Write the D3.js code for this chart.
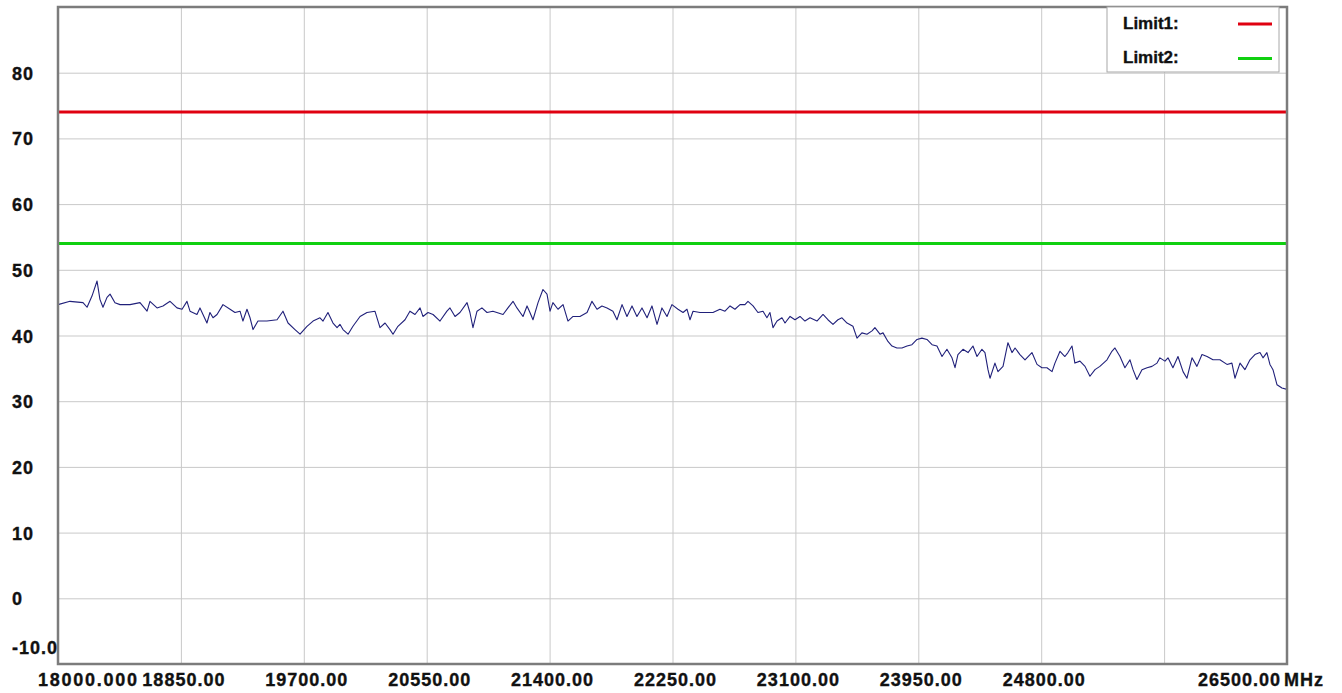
<!DOCTYPE html>
<html>
<head>
<meta charset="utf-8">
<script src="https://cdn.jsdelivr.net/npm/d3@7"></script>
<style>
  html, body { margin: 0; padding: 0; background: #ffffff; }
  svg { display: block; font-family: "Liberation Sans", Arial, sans-serif; }
</style>
</head>
<body>
<svg id="chart" width="1342" height="693"></svg>
<script>
// ---- data ----
const xTickValues = [18000, 18850, 19700, 20550, 21400, 22250, 23100, 23950, 24800, 25650, 26500];
const xTickLabels = ["18000.000", "18850.00", "19700.00", "20550.00", "21400.00", "22250.00", "23100.00", "23950.00", "24800.00", "", "26500.00"];
const yTickValues = [80, 70, 60, 50, 40, 30, 20, 10, 0, -10];
const yTickLabels = ["80", "70", "60", "50", "40", "30", "20", "10", "0", "-10.0"];
const limitNames = ["Limit1:", "Limit2:"];
const limitValues = [74, 54];
const limitColors = ["#e00010", "#10d010"];

const freqMHz = [
  18000,18083,18173,18201,18235,18270,18290,18311,18339,18360,18394,18429,18498,18567,18616,18636,18685,18726,18775,18823,
  18858,18892,18913,18961,18982,19030,19051,19072,19100,19141,19190,19224,19259,19279,19307,19328,19349,19383,19445,19515,
  19556,19591,19639,19674,19722,19764,19812,19833,19867,19902,19930,19950,19971,20006,20040,20089,20137,20192,20227,20262,
  20296,20317,20351,20400,20434,20469,20504,20524,20559,20594,20642,20690,20711,20746,20780,20829,20849,20870,20898,20932,
  20967,21008,21078,21112,21147,21174,21216,21244,21264,21285,21320,21354,21382,21403,21423,21458,21493,21527,21562,21610,
  21659,21693,21728,21762,21797,21838,21866,21901,21935,21970,22004,22039,22074,22108,22143,22177,22212,22246,22288,22323,
  22350,22371,22392,22440,22530,22578,22613,22648,22682,22717,22751,22772,22807,22841,22876,22903,22924,22945,22973,23007,
  23028,23063,23097,23132,23166,23201,23249,23291,23325,23360,23394,23422,23457,23498,23526,23560,23595,23630,23650,23685,
  23706,23740,23768,23802,23837,23872,23906,23941,23975,24010,24045,24079,24114,24148,24183,24204,24224,24259,24294,24328,
  24356,24390,24411,24432,24446,24480,24501,24536,24570,24598,24619,24653,24688,24736,24771,24805,24840,24875,24895,24930,
  24964,24985,25013,25033,25068,25103,25137,25172,25206,25255,25289,25310,25345,25379,25414,25435,25462,25497,25532,25566,
  25601,25621,25656,25677,25711,25746,25781,25808,25843,25877,25912,25947,25988,26036,26085,26119,26140,26175,26209,26244,
  26278,26313,26334,26361,26382,26403,26431,26465,26500
];
const levelDb = [
  44.7,45.2,45.0,44.3,46.0,48.3,45.5,44.3,45.8,46.3,45.0,44.7,44.7,45.0,43.7,45.2,44.2,44.5,45.2,44.2,
  44.0,45.2,43.7,43.2,44.2,41.9,43.5,42.7,43.2,44.7,44.0,43.5,43.7,42.2,44.0,42.7,40.9,42.2,42.2,42.4,
  43.7,41.9,40.9,40.2,41.4,42.2,42.7,42.2,43.5,41.9,41.2,41.7,40.9,40.2,41.4,42.9,43.5,43.7,41.2,41.9,
  40.9,40.2,41.4,42.4,43.7,43.2,44.2,42.9,43.5,43.2,42.2,43.7,44.2,42.9,43.5,45.0,43.5,41.2,43.7,44.2,
  43.5,43.7,43.2,44.2,45.2,44.2,42.9,44.5,43.5,42.4,45.0,47.0,46.3,43.7,45.0,44.0,44.7,42.2,42.9,42.9,
  43.5,45.2,44.0,44.5,44.2,43.7,42.4,44.7,42.9,44.5,42.9,44.2,42.7,44.5,41.7,44.2,42.9,44.7,44.0,43.5,
  44.0,42.4,43.7,43.5,43.5,44.0,43.7,44.5,44.0,44.7,44.7,45.2,44.5,43.5,43.7,42.7,43.5,41.2,42.2,42.7,
  41.9,42.9,42.4,42.9,42.2,42.7,42.2,43.2,42.4,41.7,42.4,42.7,41.9,41.4,39.6,40.4,40.2,40.7,41.2,40.2,
  40.4,39.1,38.4,38.1,38.1,38.4,38.6,39.4,39.6,39.4,38.6,38.4,36.8,37.9,36.6,35.1,37.1,37.9,37.4,38.4,
  36.8,37.9,37.4,34.8,33.5,35.8,34.5,35.3,38.9,37.4,38.1,37.1,36.3,37.4,35.6,35.1,35.1,34.5,35.8,37.6,
  36.8,37.4,38.4,35.8,36.1,35.3,33.8,34.8,35.3,36.3,37.6,38.1,36.8,35.1,36.3,34.8,33.3,34.8,35.1,35.3,
  35.8,36.6,36.1,36.6,35.1,36.8,34.5,33.5,36.6,35.3,37.1,36.8,36.3,36.3,35.6,35.8,33.5,35.8,34.8,36.3,
  37.1,37.4,36.6,37.4,35.6,34.8,32.5,32.0,31.8
];

// ---- layout ----
const svg = d3.select("#chart");
const mLeft = 58, mRight = 1287, mTop = 7, mBottom = 664;

const x = d3.scaleLinear().domain([18000, 26500]).range([mLeft, mRight]);
const y = d3.scaleLinear().domain([-10, 90]).range([mBottom, mTop]);

// grid via axes
svg.append("g")
  .attr("transform", `translate(0,${mBottom})`)
  .call(d3.axisBottom(x).tickValues(xTickValues.slice(1, -1)).tickSize(-(mBottom - mTop)).tickFormat(""))
  .call(g => g.select(".domain").remove())
  .call(g => g.selectAll("line").attr("stroke", "#c9c9c9").attr("stroke-width", 1));

svg.append("g")
  .attr("transform", `translate(${mLeft},0)`)
  .call(d3.axisLeft(y).tickValues(yTickValues.filter(v => v > -10)).tickSize(-(mRight - mLeft)).tickFormat(""))
  .call(g => g.select(".domain").remove())
  .call(g => g.selectAll("line").attr("stroke", "#c9c9c9").attr("stroke-width", 1));

// limit lines
svg.append("g").selectAll("line")
  .data(limitValues)
  .join("line")
  .attr("x1", mLeft).attr("x2", mRight)
  .attr("y1", d => y(d)).attr("y2", d => y(d))
  .attr("stroke", (d, i) => limitColors[i])
  .attr("stroke-width", 3);

// trace
const n = Math.min(freqMHz.length, levelDb.length);
const data = d3.range(n).map(i => [freqMHz[i], levelDb[i]]);
svg.append("path")
  .datum(data)
  .attr("fill", "none")
  .attr("stroke", "#20207a")
  .attr("stroke-width", 1.1)
  .attr("stroke-linejoin", "round")
  .attr("d", d3.line().x(d => x(d[0])).y(d => y(d[1])));

// frame
svg.append("rect")
  .attr("x", mLeft).attr("y", mTop)
  .attr("width", mRight - mLeft).attr("height", mBottom - mTop)
  .attr("fill", "none").attr("stroke", "#7c7c7c").attr("stroke-width", 2.5);

// legend
const lg = svg.append("g");
lg.append("rect")
  .attr("x", 1107).attr("y", mTop).attr("width", 172).attr("height", 65)
  .attr("fill", "#ffffff").attr("stroke", "#a8a8a8").attr("stroke-width", 1);
limitNames.forEach((name, i) => {
  lg.append("text")
    .attr("x", 1123).attr("y", 29 + i * 34)
    .attr("font-size", 17).attr("font-weight", "bold").attr("fill", "#111")
    .attr("stroke", "#111").attr("stroke-width", 0.35)
    .text(name);
  lg.append("line")
    .attr("x1", 1238).attr("x2", 1272)
    .attr("y1", 24 + i * 34.5).attr("y2", 24 + i * 34.5)
    .attr("stroke", limitColors[i]).attr("stroke-width", 3);
});

// y labels
svg.append("g").selectAll("text")
  .data(yTickValues)
  .join("text")
  .attr("x", 12)
  .attr("y", d => d === -10 ? y(d) - 10 : y(d) + 7)
  .attr("font-size", 18).attr("font-weight", "bold").attr("letter-spacing", 1).attr("fill", "#111")
  .attr("stroke", "#111").attr("stroke-width", 0.35)
  .text((d, i) => yTickLabels[i]);

// x labels
const lastIdx = xTickValues.length - 1;
svg.append("g").selectAll("text")
  .data(xTickValues)
  .join("text")
  .attr("x", (d, i) => i === 0 ? x(d) - 20 : (i === lastIdx ? x(d) - 6 : x(d) + 3))
  .attr("y", 686)
  .attr("text-anchor", (d, i) => i === 0 ? "start" : (i === lastIdx ? "end" : "middle"))
  .attr("font-size", 18).attr("font-weight", "bold").attr("letter-spacing", 1).attr("fill", "#111")
  .attr("stroke", "#111").attr("stroke-width", 0.35)
  .each(function(d, i) {
    if (i === 0) d3.select(this).attr("textLength", 100).attr("lengthAdjust", "spacing");
  })
  .text((d, i) => xTickLabels[i]);

svg.append("text")
  .attr("x", x(26500) - 3).attr("y", 686)
  .attr("font-size", 18).attr("font-weight", "bold").attr("letter-spacing", 1).attr("fill", "#111")
  .attr("stroke", "#111").attr("stroke-width", 0.35)
  .text("MHz");
</script>
</body>
</html>
